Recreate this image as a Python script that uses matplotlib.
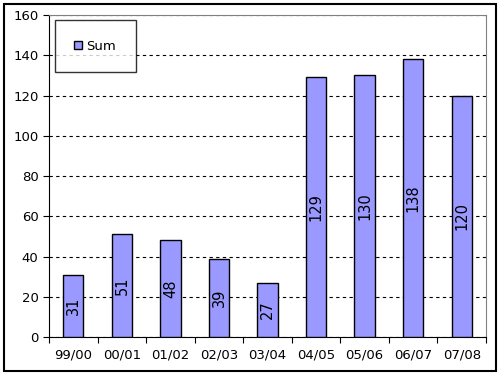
import matplotlib
matplotlib.use("Agg")
import matplotlib.pyplot as plt
from matplotlib.patches import Rectangle
import numpy as np

seasons = ["99/00", "00/01", "01/02", "02/03", "03/04", "04/05", "05/06", "06/07", "07/08"]
sums = [31, 51, 48, 39, 27, 129, 130, 138, 120]
yticks = [0, 20, 40, 60, 80, 100, 120, 140, 160]

fig = plt.figure(figsize=(5, 3.75), dpi=100)
ax = fig.add_axes([0.098, 0.1013, 0.874, 0.8587])

x = np.arange(len(seasons))
bars = ax.bar(x, sums, width=0.42, color="#9999FF", edgecolor="black", linewidth=1, label="Sum", zorder=3)

for xi, v in zip(x, sums):
    ax.text(xi, v / 2, str(v), rotation=90, ha="center", va="center", fontsize=10.5, zorder=4)

ax.set_xlim(-0.5, len(seasons) - 0.5)
ax.set_ylim(0, 160)
ax.set_yticks(yticks)
ax.set_xticks(np.arange(len(seasons) + 1) - 0.5)
ax.set_xticklabels([])
ax.set_xticks(x, minor=True)
ax.set_xticklabels(seasons, minor=True, fontsize=9.5)
ax.tick_params(axis="x", which="minor", length=0, pad=8)
ax.tick_params(axis="x", which="major", length=4, direction="out", color="black")
ax.tick_params(axis="y", length=4, direction="out", labelsize=9.5)

ax.yaxis.grid(True, linestyle=(0, (3, 3)), color="black", linewidth=0.8, zorder=0)
ax.spines["left"].set_color("black")
ax.spines["bottom"].set_color("black")
ax.spines["top"].set_color("#808080")
ax.spines["right"].set_color("#808080")

leg = ax.legend(loc="upper left", bbox_to_anchor=(0.013, 0.985), frameon=True, fancybox=False,
                fontsize=9.5, handlelength=0.6, handleheight=0.6, handletextpad=0.3,
                borderpad=1.5, borderaxespad=0)
leg.get_frame().set_edgecolor("black")
leg.get_frame().set_linewidth(1)

fig.patches.append(Rectangle((4 / 500, 4 / 375), 492 / 500, 367 / 375, transform=fig.transFigure,
                             fill=False, edgecolor="black", linewidth=1.5))

fig.savefig("out.png", dpi=100)
